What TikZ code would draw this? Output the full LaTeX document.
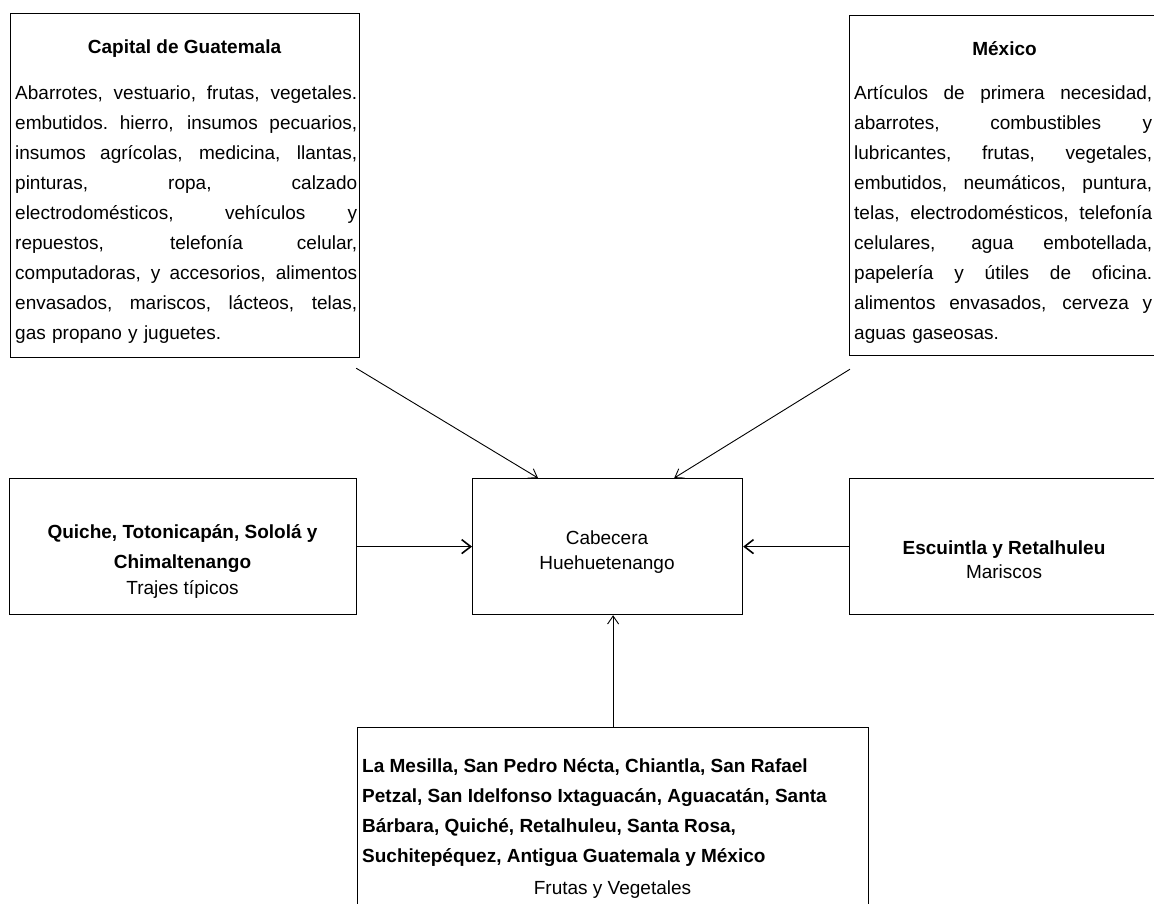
\documentclass[tikz,border=0pt]{standalone}
\usepackage{fontspec}
\setmainfont{Liberation Sans}
\usetikzlibrary{arrows.meta,calc}
\newcommand\ftx{\fontsize{19}{30}\selectfont}
\newcommand\jline[2]{\leavevmode\hbox to #1{\spaceskip=\fontdimen2\font plus 1fil\relax\xspaceskip=\spaceskip #2}}
\newcommand\capl[1]{\jline{342pt}{#1}}
\newcommand\mexl[1]{\jline{298pt}{#1}}
\begin{document}
\begin{tikzpicture}[x=1pt,y=-1pt,
  box/.style={draw, line width=1.2pt, rectangle, anchor=north west, inner sep=0pt},
  txt/.style={inner sep=0pt, font=\ftx},
  arrd/.style={line width=0.9pt, -{Straight Barb[length=8pt,width=11pt]}},
  arrh/.style={line width=1.6pt, -{Straight Barb[length=9pt,width=14pt]}},
  arrv/.style={line width=0.9pt, -{Straight Barb[length=8pt,width=11pt]}}]
\useasboundingbox (0,0) rectangle (1154,903);
\fill[white] (0,0) rectangle (1154,903);

% boxes
\node[box, minimum width=349pt, minimum height=344pt] (cap) at (10,13) {};
\node[box, minimum width=320pt, minimum height=340pt] (mex) at (849,15) {};
\node[box, minimum width=347pt, minimum height=136pt] (qui) at (9,478) {};
\node[box, minimum width=270pt, minimum height=136pt] (cab) at (472,478) {};
\node[box, minimum width=320pt, minimum height=136pt] (esc) at (849,478) {};
\node[box, minimum width=511pt, minimum height=200pt] (bot) at (357,727) {};

% Capital de Guatemala
\node[txt, anchor=base] (captitle) at (184.5,53) {\bfseries Capital de Guatemala};
\node[txt, anchor=north west, text width=342pt, align=left] (capbody) at (15,78) {\strut
\capl{Abarrotes, vestuario, frutas, vegetales.}\\
\capl{embutidos. hierro, insumos pecuarios,}\\
\capl{insumos agrícolas, medicina, llantas,}\\
\capl{pinturas, ropa, calzado}\\
\capl{electrodomésticos, vehículos y}\\
\capl{repuestos, telefonía celular,}\\
\capl{computadoras, y accesorios, alimentos}\\
\capl{envasados, mariscos, lácteos, telas,}\\
gas propano y juguetes.};

% Mexico
\node[txt, anchor=base] (mextitle) at (1004.5,55) {\bfseries México};
\node[txt, anchor=north west, text width=298pt, align=left] (mexbody) at (854,78) {\strut
\mexl{Artículos de primera necesidad,}\\
\mexl{abarrotes, combustibles y}\\
\mexl{lubricantes, frutas, vegetales,}\\
\mexl{embutidos, neumáticos, puntura,}\\
\mexl{telas, electrodomésticos, telefonía}\\
\mexl{celulares, agua embotellada,}\\
\mexl{papelería y útiles de oficina.}\\
\mexl{alimentos envasados, cerveza y}\\
aguas gaseosas.};

% Quiche
\node[txt, anchor=base] (qui1) at (182.5,538) {\bfseries Quiche, Totonicapán, Sololá y};
\node[txt, anchor=base] (qui2) at (182.5,568) {\bfseries Chimaltenango};
\node[txt, anchor=base] (qui3) at (182.5,594) {Trajes típicos};

% Cabecera
\node[txt, anchor=base] (cab1) at (607,544) {Cabecera};
\node[txt, anchor=base] (cab2) at (607,569) {Huehuetenango};

% Escuintla
\node[txt, anchor=base] (esc1) at (1004,554) {\bfseries Escuintla y Retalhuleu};
\node[txt, anchor=base] (esc2) at (1004,578) {Mariscos};

% bottom
\node[txt, font=\ftx\bfseries, anchor=north west, align=left] (botbody) at (362,751) {\strut
La Mesilla, San Pedro Nécta, Chiantla, San Rafael\\
Petzal, San Idelfonso Ixtaguacán, Aguacatán, Santa\\
Bárbara, Quiché, Retalhuleu, Santa Rosa,\\
Suchitepéquez, Antigua Guatemala y México};
\node[txt, anchor=base] (botsub) at (612.5,894) {Frutas y Vegetales};

% connectors
\draw[arrd] ($(cap.south east)+(-4,10)$) -- ($(cab.north west)+(66,0)$);
\draw[arrd] ($(mex.south west)+(1,13)$) -- ($(cab.north east)+(-69,0)$);
\draw[arrh] (qui.east) -- (cab.west);
\draw[arrh] (esc.west) -- (cab.east);
\draw[arrv] (bot.north) -- (bot.north |- cab.south);
\end{tikzpicture}
\end{document}
